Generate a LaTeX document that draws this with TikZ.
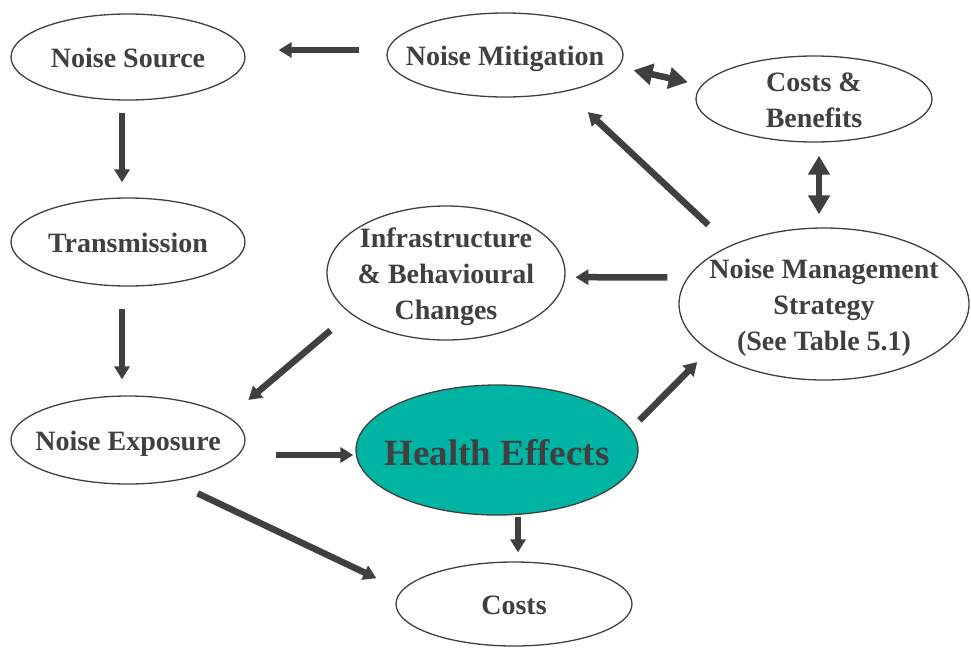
\documentclass[tikz,border=0pt]{standalone}
\usepackage{fontspec}
\setmainfont{Liberation Serif}
\usepackage{tikz}
\usetikzlibrary{arrows.meta, shapes.geometric}

\definecolor{ink}{HTML}{404040}
\definecolor{teal}{HTML}{00B4A4}

% text of a bubble, kept out of the shape size
\newcommand{\lbl}[1]{\makebox[0pt]{\raisebox{-.35em}[0pt][0pt]{\begin{tabular}{@{}c@{}}#1\end{tabular}}}}

\tikzset{
  bubble/.style={ellipse, draw=ink, line width=1.3pt, fill=white, inner sep=0pt,
    text=ink, font=\fontsize{28}{36}\selectfont\bfseries},
  flow/.style={draw=ink, line width=6.5pt, -{Triangle[width=15pt,length=13pt]}},
  both/.style={draw=ink, line width=6.5pt, {Triangle[width=21pt,length=19pt]}-{Triangle[width=21pt,length=19pt]}}
}

\begin{document}
\begin{tikzpicture}[x=1pt, y=-1pt]
  \useasboundingbox (0,0) rectangle (971,649);

  % Left column
  \node[bubble, minimum width=234, minimum height=86] (src) at (128,57) {\lbl{Noise Source}};
  \node[bubble, minimum width=234, minimum height=88] (trans) at (128,242) {\lbl{Transmission}};
  \node[bubble, minimum width=234, minimum height=88] (exp) at (128,440) {\lbl{Noise Exposure}};

  % Middle
  \node[bubble, minimum width=236, minimum height=84] (mit) at (505,55) {\lbl{Noise Mitigation}};
  \node[bubble, minimum width=238, minimum height=134] (infra) at (446,273) {\lbl{Infrastructure\\\& Behavioural\\Changes}};
  \node[bubble, fill=teal, minimum width=282, minimum height=130,
    font=\fontsize{37}{44}\selectfont\bfseries] (he) at (497,450) {\lbl{Health Effects}};
  \node[bubble, minimum width=236, minimum height=84] (costs) at (514,604) {\lbl{Costs}};

  % Right column
  \node[bubble, minimum width=236, minimum height=86] (cb) at (814,99) {\lbl{Costs \&\\Benefits}};
  \node[bubble, minimum width=290, minimum height=152] (nms) at (824,304) {\lbl{Noise Management\\Strategy\\(See Table 5.1)}};

  % Arrows
  \draw[flow, shorten <=27pt, shorten >=33pt] ([yshift=5pt]mit.west) -- ([yshift=7pt]src.east);
  \draw[flow, shorten <=12pt, shorten >=15pt] ([xshift=-6pt]src.south) -- ([xshift=-6pt]trans.north);
  \draw[flow, shorten <=22pt, shorten >=16pt] ([xshift=-6pt]trans.south) -- ([xshift=-6pt]exp.north);
  \draw[both, shorten <=15pt, shorten >=14pt] (mit.-6) -- (cb.173);
  \draw[both, shorten <=13pt, shorten >=13pt] ([xshift=5pt]cb.south) -- ([xshift=-5pt]nms.north);
  \draw[flow, shorten <=30pt, shorten >=30pt] (nms.148) -- (mit.-31);
  \draw[flow, shorten <=20pt, shorten >=10pt] (nms.169) -- (infra.-2);
  \draw[flow, shorten <=26pt, shorten >=26pt] (infra.203) -- (exp.13);
  \draw[flow, shorten <=30pt, shorten >=2pt] ([yshift=-15pt]exp.east) -- ([yshift=-5pt]he.west);
  \draw[flow, shorten <=12pt, shorten >=16pt] (he.9) -- (nms.202);
  \draw[flow, shorten <=1pt, shorten >=9pt] ([xshift=21pt]he.south) -- ([xshift=4pt]costs.north);
  \draw[flow, shorten <=28pt, shorten >=28pt] (exp.-43) -- (costs.173);
\end{tikzpicture}
\end{document}
